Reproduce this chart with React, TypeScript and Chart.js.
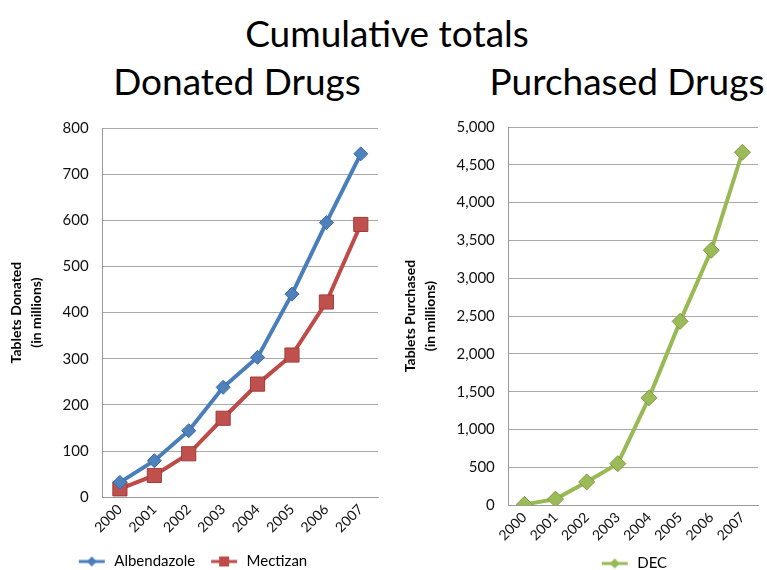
import React, { useEffect, useRef } from "react";
import { Chart, registerables } from "chart.js";

Chart.register(...registerables);

const years = ["2000", "2001", "2002", "2003", "2004", "2005", "2006", "2007"];
const albendazole = [32, 79, 144, 238, 303, 440, 595, 744];
const mectizan = [18, 47, 94, 171, 245, 308, 423, 591];
const dec = [10, 80, 307, 549, 1419, 2430, 3370, 4666];

const mainTitle = "Cumulative totals";
const leftTitle = "Donated Drugs";
const rightTitle = "Purchased Drugs";
const leftAxisTitle = ["Tablets Donated", "(in millions)"];
const rightAxisTitle = ["Tablets Purchased", "(in millions)"];

const FONT = "Lato, 'Open Sans', sans-serif";

function legendIcon(color: string, style: string): HTMLCanvasElement {
  const c = document.createElement("canvas");
  c.width = 30;
  c.height = 14;
  const ctx = c.getContext("2d")!;
  ctx.strokeStyle = color;
  ctx.lineWidth = 3;
  ctx.beginPath();
  ctx.moveTo(2, 7);
  ctx.lineTo(28, 7);
  ctx.stroke();
  ctx.fillStyle = color;
  ctx.beginPath();
  if (style === "rect") {
    ctx.rect(10, 2, 10, 10);
  } else {
    ctx.moveTo(15, 2);
    ctx.lineTo(20, 7);
    ctx.lineTo(15, 12);
    ctx.lineTo(10, 7);
    ctx.closePath();
  }
  ctx.fill();
  return c;
}

interface Layout {
  max: number;
  step: number;
  axisTitle: string[];
  padTop: number;
  padRight: number;
  padLeft: number;
  legendPad: number;
  tickPad: number;
  legendFull: boolean;
}

function makeOptions(l: Layout) {
  return {
    animation: false as const,
    responsive: false,
    maintainAspectRatio: false,
    layout: { padding: { top: l.padTop, right: l.padRight, left: l.padLeft, bottom: 0 } },
    plugins: {
      title: { display: false },
      tooltip: { enabled: false },
      legend: {
        position: "bottom" as const,
        fullSize: l.legendFull,
        labels: {
          font: { family: FONT, size: 15 },
          color: "#111",
          boxHeight: 14,
          pointStyleWidth: 30,
          padding: l.legendPad,
          usePointStyle: true,
          generateLabels: (chart: any) =>
            chart.data.datasets.map((ds: any, i: number) => ({
              text: ds.label,
              pointStyle: legendIcon(ds.borderColor, ds.pointStyle),
              fillStyle: ds.borderColor,
              strokeStyle: ds.borderColor,
              lineWidth: 0,
              hidden: false,
              datasetIndex: i,
            })),
        },
      },
    },
    scales: {
      x: {
        offset: true,
        grid: { display: false, drawTicks: false },
        border: { display: true, color: "#9a9a9a", width: 1 },
        ticks: {
          maxRotation: 45,
          minRotation: 45,
          font: { family: FONT, size: 14 },
          color: "#111",
          padding: l.tickPad,
        },
      },
      y: {
        min: 0,
        max: l.max,
        ticks: {
          stepSize: l.step,
          font: { family: FONT, size: 15 },
          color: "#111",
          padding: 14,
        },
        grid: { color: "#a8a8a8", drawTicks: false, lineWidth: 1 },
        border: { display: true, color: "#9a9a9a", width: 1 },
        title: {
          display: true,
          text: l.axisTitle,
          font: { family: FONT, size: 14, weight: "bold" as const, lineHeight: 1.45 },
          color: "#000",
          padding: { top: 0, bottom: 2 },
        },
      },
    },
  };
}

export default function App() {
  const leftRef = useRef<HTMLCanvasElement>(null);
  const rightRef = useRef<HTMLCanvasElement>(null);

  useEffect(() => {
    const left = new Chart(leftRef.current!, {
      type: "line",
      data: {
        labels: years,
        datasets: [
          {
            label: "Albendazole",
            data: albendazole,
            borderColor: "#4a7ebb",
            backgroundColor: "#4f81bd",
            borderWidth: 4,
            pointStyle: "rectRot",
            pointRadius: 7,
            pointBackgroundColor: "#4f81bd",
            pointBorderColor: "#3a6aa5",
            pointBorderWidth: 1,
          },
          {
            label: "Mectizan",
            data: mectizan,
            borderColor: "#be4b48",
            backgroundColor: "#c0504d",
            borderWidth: 4,
            pointStyle: "rect",
            pointRadius: 10,
            pointBackgroundColor: "#c0504d",
            pointBorderColor: "#a03c39",
            pointBorderWidth: 1,
          },
        ],
      },
      options: makeOptions({
        max: 800,
        step: 100,
        axisTitle: leftAxisTitle,
        padTop: 3,
        padRight: 12,
        padLeft: 6,
        legendPad: 14,
        tickPad: 4,
        legendFull: true,
      }) as any,
    });
    const right = new Chart(rightRef.current!, {
      type: "line",
      data: {
        labels: years,
        datasets: [
          {
            label: "DEC",
            data: dec,
            borderColor: "#98b954",
            backgroundColor: "#9bbb59",
            borderWidth: 4,
            pointStyle: "rectRot",
            pointRadius: 8,
            pointBackgroundColor: "#9bbb59",
            pointBorderColor: "#7f9a45",
            pointBorderWidth: 1,
          },
        ],
      },
      options: makeOptions({
        max: 5000,
        step: 500,
        axisTitle: rightAxisTitle,
        padTop: 2,
        padRight: 3,
        padLeft: 5,
        legendPad: 8,
        tickPad: 4,
        legendFull: false,
      }) as any,
    });
    return () => {
      left.destroy();
      right.destroy();
    };
  }, []);

  const titleStyle: React.CSSProperties = {
    position: "absolute",
    fontFamily: FONT,
    color: "#000",
    whiteSpace: "nowrap",
    transform: "translateX(-50%)",
    lineHeight: 1,
  };

  return (
    <div
      style={{
        position: "absolute",
        left: 0,
        top: 0,
        width: 767,
        height: 570,
        background: "#fff",
        overflow: "hidden",
      }}
    >
      <div style={{ ...titleStyle, left: 387, top: 14, fontSize: 37 }}>{mainTitle}</div>
      <div style={{ ...titleStyle, left: 237, top: 62, fontSize: 37 }}>{leftTitle}</div>
      <div style={{ ...titleStyle, left: 627, top: 62, fontSize: 37 }}>{rightTitle}</div>
      <canvas
        ref={leftRef}
        width={390}
        height={474}
        style={{ position: "absolute", left: 0, top: 105, width: 390, height: 474 }}
      />
      <canvas
        ref={rightRef}
        width={372}
        height={477}
        style={{ position: "absolute", left: 395, top: 104, width: 372, height: 477 }}
      />
    </div>
  );
}
